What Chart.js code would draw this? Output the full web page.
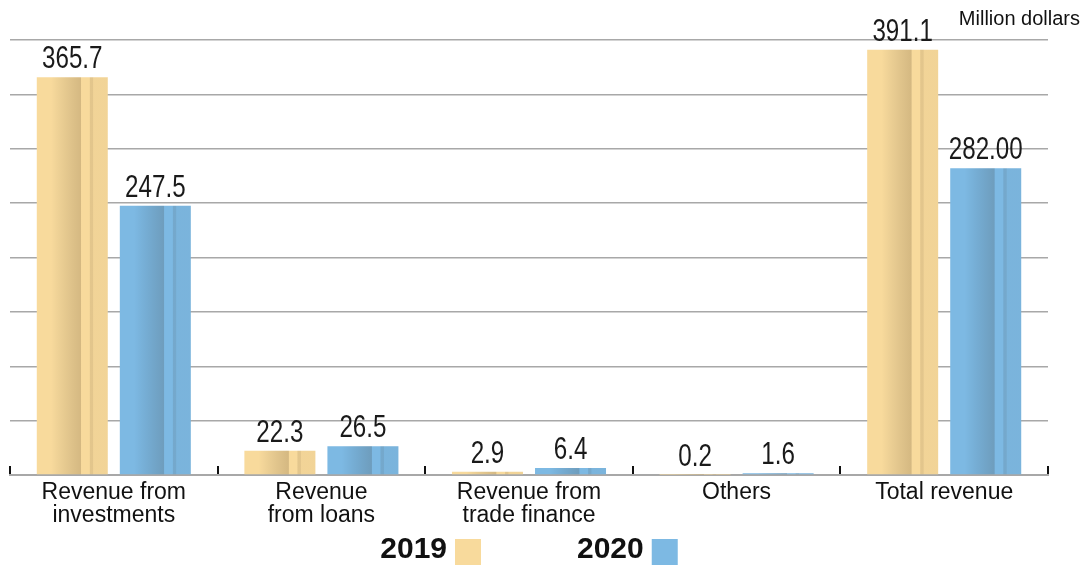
<!DOCTYPE html>
<html>
<head>
<meta charset="utf-8">
<script src="https://cdn.jsdelivr.net/npm/chart.js@4/dist/chart.umd.min.js"></script>
<style>
  html, body { margin: 0; padding: 0; background: #fff; }
  #wrap { width: 1084px; height: 565px; position: relative; }
</style>
</head>
<body>
<div id="wrap"><canvas id="rev-canvas"></canvas></div>
<script>
// data
const categories = [['Revenue from', 'investments'], ['Revenue', 'from loans'], ['Revenue from', 'trade finance'], 'Others', 'Total revenue'];
const series2019 = [365.7, 22.3, 2.9, 0.2, 391.1];
const series2020 = [247.5, 26.5, 6.4, 1.6, 282.0];
const labels2019 = ['365.7', '22.3', '2.9', '0.2', '391.1'];
const labels2020 = ['247.5', '26.5', '6.4', '1.6', '282.00'];
const seriesNames = ['2019', '2020'];
const unitText = 'Million dollars';

const yellow = '#F8DA9C';
const blue = '#7DB9E3';
const fontFam = '"Liberation Sans", Arial, sans-serif';

// shiny stripes on every bar, the value labels over them, unit text and legend
const barLabels = {
    id: 'barLabels',
    afterDatasetsDraw(chart) {
        let ctx = chart.ctx;
        let valueLabels = [labels2019, labels2020];
        ctx.save();
        chart.data.datasets.forEach((ds, d) => {
            let meta = chart.getDatasetMeta(d);
            meta.data.forEach((bar, i) => {
                let p = bar.getProps(['x', 'y', 'base', 'width'], true);
                let left = p.x - p.width / 2;
                let g = ctx.createLinearGradient(left, 0, left + p.width, 0);
                g.addColorStop(0, 'rgba(0,0,0,0)');
                g.addColorStop(0.2, 'rgba(0,0,0,0)');
                g.addColorStop(0.62, 'rgba(40,20,0,0.17)');
                g.addColorStop(0.63, 'rgba(0,0,0,0)');
                g.addColorStop(0.74, 'rgba(0,0,0,0)');
                g.addColorStop(0.755, 'rgba(40,20,0,0.1)');
                g.addColorStop(0.79, 'rgba(40,20,0,0.1)');
                g.addColorStop(0.8, 'rgba(40,20,0,0.03)');
                g.addColorStop(1, 'rgba(40,20,0,0.03)');
                ctx.fillStyle = g;
                ctx.fillRect(left, p.y, p.width, p.base - p.y);

                ctx.save();
                ctx.fillStyle = '#1a1a1a';
                ctx.font = '31px ' + fontFam;
                ctx.textAlign = 'center';
                ctx.textBaseline = 'alphabetic';
                ctx.translate(p.x, p.y - 9);
                ctx.scale(0.78, 1);
                ctx.fillText(valueLabels[d][i], 0, 0);
                ctx.restore();
            });
        });
        ctx.fillStyle = '#111';
        ctx.font = '20px ' + fontFam;
        ctx.textAlign = 'right';
        ctx.textBaseline = 'alphabetic';
        ctx.fillText(unitText, chart.width - 4, 25);
        ctx.restore();
    },
    afterDraw(chart) {
        // legend: bold year, then colour box to its right
        let ctx = chart.ctx;
        let area = chart.chartArea;
        let colors = [yellow, blue];
        ctx.save();
        ctx.font = 'bold 30px ' + fontFam;
        let box = 26, gapText = 8, gapItem = 96;
        let widths = seriesNames.map(n => ctx.measureText(n).width);
        let total = widths[0] + widths[1] + 2 * (gapText + box) + gapItem;
        let x = (area.left + area.right) / 2 - total / 2;
        let base = chart.height - 7;
        ctx.textBaseline = 'alphabetic';
        ctx.textAlign = 'left';
        seriesNames.forEach((n, i) => {
            ctx.fillStyle = '#111';
            ctx.fillText(n, x, base);
            x += widths[i] + gapText;
            ctx.fillStyle = colors[i];
            ctx.fillRect(x, chart.height - box, box, box);
            x += box + gapItem;
        });
        ctx.restore();
    }
};

let ctx = document.getElementById('rev-canvas').getContext('2d');
let chart = new Chart(ctx, {
    type: 'bar',
    data: {
        labels: categories,
        datasets: [{
            label: seriesNames[0],
            data: series2019,
            backgroundColor: yellow,
            borderWidth: 0,
            barPercentage: 0.855,
            categoryPercentage: 0.8
        }, {
            label: seriesNames[1],
            data: series2020,
            backgroundColor: blue,
            borderWidth: 0,
            barPercentage: 0.855,
            categoryPercentage: 0.8
        }]
    },
    options: {
        responsive: true,
        maintainAspectRatio: false,
        animation: false,
        layout: { padding: { left: 10, right: 36, top: 40, bottom: 23 } },
        scales: {
            x: {
                grid: {
                    offset: true,
                    drawOnChartArea: false,
                    tickLength: -9,
                    lineWidth: 2,
                    color: (c) => c.index === categories.length ? '#999' : '#111'
                },
                border: { display: true, color: '#a8a8a8', width: 2 },
                ticks: {
                    color: '#111',
                    padding: 15,
                    font: { size: 23, family: fontFam, lineHeight: 1.0 },
                    maxRotation: 0,
                    autoSkip: false
                }
            },
            y: {
                min: 0,
                max: 400,
                ticks: { display: false, stepSize: 50 },
                border: { display: false },
                grid: { color: '#a8a8a8', lineWidth: 1.5, drawTicks: false }
            }
        },
        plugins: {
            tooltip: { enabled: false },
            legend: { display: false }
        }
    },
    plugins: [barLabels]
});
</script>
</body>
</html>
